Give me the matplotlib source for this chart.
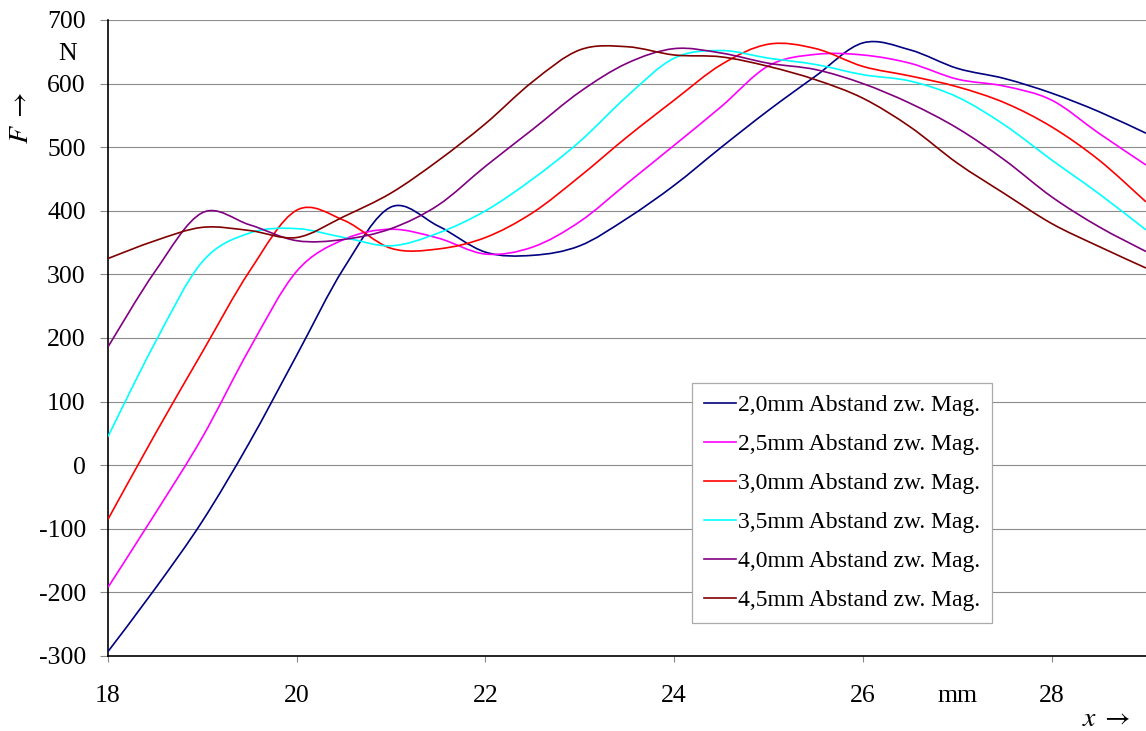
import numpy as np
import matplotlib
matplotlib.use("Agg")
import matplotlib.pyplot as plt
from matplotlib.path import Path
from matplotlib.patches import PathPatch
from matplotlib.lines import Line2D

# Daten, Schritt 0,5 mm
x_mm = [18, 18.5, 19, 19.5, 20, 20.5, 21, 21.5, 22, 22.5, 23, 23.5,
        24, 24.5, 25, 25.5, 26, 26.5, 27, 27.5, 28, 28.5, 29]

f_20 = [-293, -194, -88, 36, 173, 310, 406, 376, 335, 330, 345, 388,
        440, 500, 558, 612, 664, 653, 624, 608, 585, 556, 522]
f_25 = [-192, -76, 44, 183, 305, 355, 371, 357, 332, 343, 383, 443,
        503, 564, 628, 646, 645, 632, 607, 596, 574, 522, 472]
f_30 = [-85, 49, 178, 305, 401, 385, 341, 340, 358, 397, 454, 516,
        574, 630, 662, 655, 627, 612, 595, 570, 532, 480, 414]
f_35 = [45, 193, 320, 365, 372, 358, 345, 365, 400, 450, 509, 580,
        640, 652, 640, 630, 614, 604, 579, 535, 480, 427, 370]
f_40 = [186, 305, 397, 378, 353, 355, 372, 409, 470, 528, 587, 632,
        655, 648, 632, 622, 600, 569, 530, 480, 422, 375, 336]
f_45 = [325, 353, 374, 369, 358, 391, 428, 479, 537, 603, 653, 658,
        645, 642, 627, 606, 577, 532, 475, 427, 380, 344, 310]

labels = ["2,0mm Abstand zw. Mag.", "2,5mm Abstand zw. Mag.",
          "3,0mm Abstand zw. Mag.", "3,5mm Abstand zw. Mag.",
          "4,0mm Abstand zw. Mag.", "4,5mm Abstand zw. Mag."]
colors = ["#000080", "#FF00FF", "#FF0000", "#00FFFF", "#800080", "#800000"]
series = [f_20, f_25, f_30, f_35, f_40, f_45]

y_ticks = [-300, -200, -100, 0, 100, 200, 300, 400, 500, 600, 700]
x_ticks = [18, 20, 22, 24, 26, 28]

plt.rcParams['font.family'] = ['Liberation Serif', 'DejaVu Serif']
plt.rcParams['mathtext.fontset'] = 'stix'


def smooth_path(xs, ys):
    # geglaettete Linie wie in Excel (Bezier-Segmente)
    pts = np.column_stack([xs, ys]).astype(float)
    n = len(pts)
    verts = [pts[0]]
    codes = [Path.MOVETO]
    for i in range(n - 1):
        p0 = pts[i - 1] if i > 0 else pts[i]
        p1 = pts[i]
        p2 = pts[i + 1]
        p3 = pts[i + 2] if i + 2 < n else pts[i + 1]
        verts += [p1 + (p2 - p0) / 6, p2 - (p3 - p1) / 6, p2]
        codes += [Path.CURVE4] * 3
    return Path(verts, codes)


fig = plt.figure(figsize=(11.46, 7.31), dpi=100)
ax = fig.add_axes([108 / 1146, 1 - 656 / 731, 1 - 108 / 1146, (656 - 20) / 731])

for ys, c in zip(series, colors):
    patch = PathPatch(smooth_path(x_mm, ys), facecolor='none', edgecolor=c,
                      lw=1.2, transform=ax.transData, zorder=3)
    ax.add_patch(patch)

ax.set_xlim(18, 29)
ax.set_ylim(-300, 700)

ax.set_yticks(y_ticks, [str(v) for v in y_ticks])
ax.set_xticks(x_ticks, [str(v) for v in x_ticks])
ax.set_yticks([650], ['N'], minor=True)
ax.set_xticks([27], ['mm'], minor=True)

ax.tick_params(axis='y', which='major', length=6, width=0.8, color='#888888',
               labelsize=18.5, pad=10)
ax.tick_params(axis='y', which='minor', length=0, labelsize=18.5, pad=22.5)
ax.tick_params(axis='x', which='major', length=4.5, width=0.8, color='#888888',
               labelsize=18.5, pad=16.5)
ax.tick_params(axis='x', which='minor', length=0, labelsize=18.5, pad=21)

ax.grid(True, axis='y', which='major', color='#8c8c8c', lw=0.8, zorder=0)
ax.set_axisbelow(True)
for s in ['top', 'right']:
    ax.spines[s].set_visible(False)
for s in ['left', 'bottom']:
    ax.spines[s].set_color('black')
    ax.spines[s].set_linewidth(1.2)

fig.text(22 / 1146, 1 - 118 / 731, r'$F\;\rightarrow$', rotation=90,
         ha='center', va='center', fontsize=20)
fig.text(1106 / 1146, 1 - 720 / 731, r'$x\;\rightarrow$',
         ha='center', va='center', fontsize=20)

handles = [Line2D([], [], color=c, lw=1.2) for c in colors]
leg = ax.legend(handles, labels, loc='upper left',
                bbox_to_anchor=(692 / 1146, 1 - 383 / 731),
                bbox_transform=fig.transFigure, fontsize=17, frameon=True,
                fancybox=False, edgecolor='#aaaaaa', framealpha=1,
                handlelength=1.36, handletextpad=0.1, labelspacing=0.74,
                borderpad=0.5, borderaxespad=0)
leg.get_frame().set_linewidth(0.9)

fig.savefig('out.png', dpi=100)
